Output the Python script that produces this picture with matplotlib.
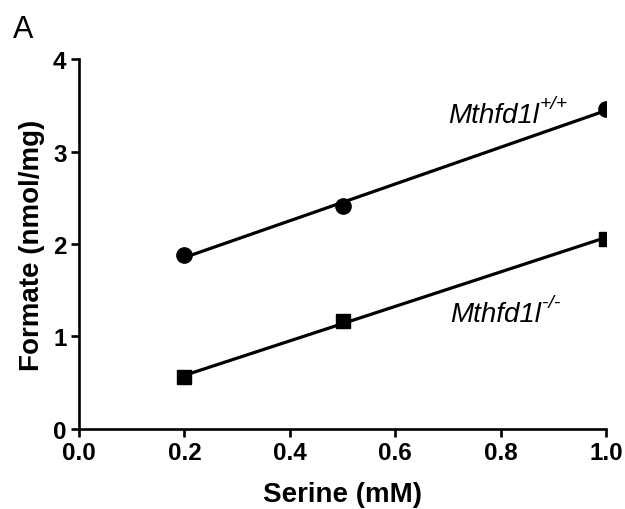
import numpy as np
import matplotlib.pyplot as plt

# Serine concentration (mM) and formate (nmol/mg)
serine = [0.2, 0.5, 1.0]
formate_wt = [1.88, 2.41, 3.46]
formate_ko = [0.56, 1.17, 2.06]

x_ticks = [0.0, 0.2, 0.4, 0.6, 0.8, 1.0]
y_ticks = [0, 1, 2, 3, 4]

plt.rcParams['font.family'] = ['Liberation Sans', 'DejaVu Sans']

fig = plt.figure(figsize=(6.25, 5.1), dpi=100)
ax = fig.add_axes([0.1264, 0.157, 0.8432, 0.725])

# linear fits drawn across the measured range
for ys, mk, ms in [(formate_wt, 'o', 11), (formate_ko, 's', 10)]:
    k, b = np.polyfit(serine, ys, 1)
    xs = np.array([serine[0], serine[-1]])
    ax.plot(xs, k * xs + b, color='black', lw=2.3, solid_capstyle='butt')
    ax.plot(serine, ys, linestyle='none', marker=mk, ms=ms, color='black')

ax.set_xlim(0, 1.0)
ax.set_ylim(0, 4)
ax.set_xticks(x_ticks)
ax.set_yticks(y_ticks)
ax.set_xticklabels([f'{v:.1f}' for v in x_ticks], fontsize=17.5, fontweight='bold')
ax.set_yticklabels([str(v) for v in y_ticks], fontsize=17.5, fontweight='bold')

for s in ['top', 'right']:
    ax.spines[s].set_visible(False)
for s in ['left', 'bottom']:
    ax.spines[s].set_linewidth(1.9)
ax.tick_params(width=1.9, length=6, direction='out', pad=3)

ax.set_xlabel('Serine (mM)', fontsize=20, fontweight='bold', labelpad=12)
ax.set_ylabel('Formate (nmol/mg)', fontsize=20, fontweight='bold', labelpad=6)

# genotype labels: italic gene name with a small superscript
for (lx, ly, sup) in [(0.70, 3.32, '+/+'), (0.704, 1.17, '-/-')]:
    t = ax.text(lx, ly, 'Mthfd1l', fontsize=20, style='italic')
    ax.annotate(sup, xy=(1, 0.62), xycoords=t, xytext=(1, 0),
                textcoords='offset points', fontsize=14, style='italic',
                va='bottom', ha='left')

fig.text(13 / 625, 1 - 38 / 510, 'A', fontsize=22)

fig.savefig('out.png', dpi=100)
